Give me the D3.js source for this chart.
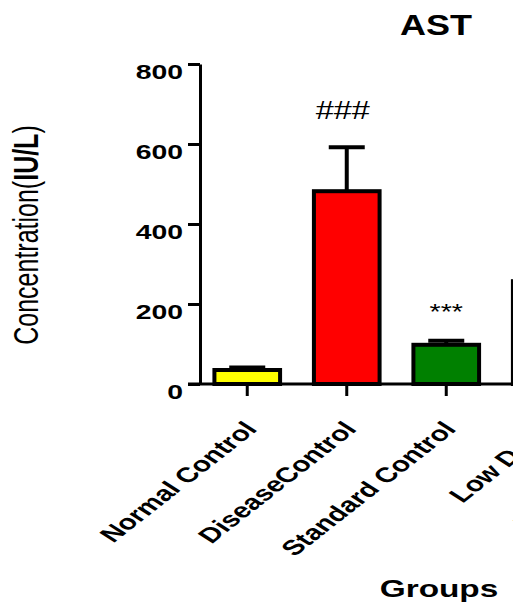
<!DOCTYPE html>
<html>
<head>
<meta charset="utf-8">
<script src="https://cdn.jsdelivr.net/npm/d3@7"></script>
<style>
  body { margin: 0; background: #fff; }
  text { font-family: "Liberation Sans", Arial, sans-serif; }
</style>
</head>
<body>
<svg id="chart"></svg>
<script>
const width  = 513;
const height = 607;

// data (right part of the chart is cut off)
const categories = ["Normal Control", "DiseaseControl", "Standard Control", "Low Dose", "Medium Dose"];
const means      = [35, 482, 98, 257, null];
const sems       = [6, 110, 10, null, null];
const marks      = ["", "###", "***", "", ""];
const yTicks     = [0, 200, 400, 600, 800];
const barColors  = ["#ffff00", "#ff0000", "#008000", "#0000ff", "#800080"];

const svg = d3.select('#chart').attr('width', width).attr('height', height);

// picture is stretched sideways, so text gets a horizontal scale
const sx = 1.42;

const x = d3.scaleBand().domain(categories).range([197.5, 695])
  .paddingInner(0.34).paddingOuter(0.17);
const y = d3.scaleLinear().domain([0, 800]).range([384, 64]);
const color = d3.scaleOrdinal(categories, barColors);

const rows = categories.map((c, i) => ({ c, m: means[i], s: sems[i], mark: marks[i] }))
  .filter(d => d.m != null);

// bars
svg.selectAll('rect.bar').data(rows)
  .enter().append('rect')
    .attr('class', 'bar')
    .attr('x', d => x(d.c))
    .attr('y', d => y(d.m))
    .attr('width', x.bandwidth())
    .attr('height', d => y(0) - y(d.m))
    .attr('fill', d => color(d.c))
    .attr('stroke', '#000')
    .attr('stroke-width', 4);

// error bars (upper only)
const err = svg.selectAll('g.err').data(rows.filter(d => d.s != null))
  .enter().append('g').attr('class', 'err');
err.append('line')
  .attr('x1', d => x(d.c) + x.bandwidth() / 2)
  .attr('x2', d => x(d.c) + x.bandwidth() / 2)
  .attr('y1', d => y(d.m))
  .attr('y2', d => y(d.m + d.s))
  .attr('stroke', '#000').attr('stroke-width', 4);
err.append('line')
  .attr('x1', d => x(d.c) + x.bandwidth() / 2 - 18)
  .attr('x2', d => x(d.c) + x.bandwidth() / 2 + 18)
  .attr('y1', d => y(d.m + d.s))
  .attr('y2', d => y(d.m + d.s))
  .attr('stroke', '#000').attr('stroke-width', 4);

// significance marks
svg.selectAll('text.mark').data(rows.filter(d => d.mark))
  .enter().append('text')
    .attr('class', 'mark')
    .attr('text-anchor', 'middle')
    .attr('font-size', d => d.mark === '###' ? 25 : 22)
    .attr('transform', d => {
      const cx = x(d.c) + x.bandwidth() / 2 - (d.mark === '###' ? 4 : 0);
      const ty = d.mark === '###' ? y(d.m + d.s) - 28 : y(d.m + d.s) - 22;
      return `translate(${cx},${ty}) scale(1.3,1)`;
    })
    .text(d => d.mark);

// y axis
const yAxis = svg.append('g')
  .attr('transform', 'translate(200,0)')
  .call(d3.axisLeft(y).tickValues(yTicks).tickSize(12).tickSizeOuter(0));
yAxis.selectAll('path, line').attr('stroke', '#000').attr('stroke-width', 3);
yAxis.selectAll('text')
  .attr('x', null)
  .attr('dy', '0.72em')
  .attr('fill', '#000')
  .attr('font-size', 20)
  .attr('font-weight', 'bold')
  .attr('font-family', '"Liberation Sans", Arial, sans-serif')
  .attr('transform', `translate(-17,0) scale(${sx},1)`);

// x axis
const xAxis = svg.append('g')
  .attr('transform', `translate(0,${y(0)})`)
  .call(d3.axisBottom(x).tickSize(12).tickSizeOuter(0));
xAxis.select('.domain').attr('d', `M188,0H${width + 10}`);
xAxis.selectAll('path, line').attr('stroke', '#000').attr('stroke-width', 3);
xAxis.selectAll('text')
  .attr('y', null)
  .attr('dy', null)
  .attr('text-anchor', 'end')
  .attr('fill', '#000')
  .attr('font-size', 21)
  .attr('font-weight', 'bold')
  .attr('font-family', '"Liberation Sans", Arial, sans-serif')
  .attr('transform', `translate(11,46) scale(${sx},1) rotate(-48)`);

// titles
svg.append('text')
  .attr('text-anchor', 'middle')
  .attr('font-size', 30).attr('font-weight', 'bold')
  .attr('transform', 'translate(436,35) scale(1.2,1)')
  .text('AST');

svg.append('text')
  .attr('text-anchor', 'middle')
  .attr('font-size', 24).attr('font-weight', 'bold')
  .attr('transform', 'translate(439,597) scale(1.39,1)')
  .text('Groups');

const yl = svg.append('text')
  .attr('text-anchor', 'middle')
  .attr('font-size', 25)
  .attr('transform', `translate(38,235) scale(${sx},1) rotate(-90)`);
yl.append('tspan').text('Concentration(');
yl.append('tspan').attr('font-weight', 'bold').text('IU/L');
yl.append('tspan').text(')');
</script>
</body>
</html>
